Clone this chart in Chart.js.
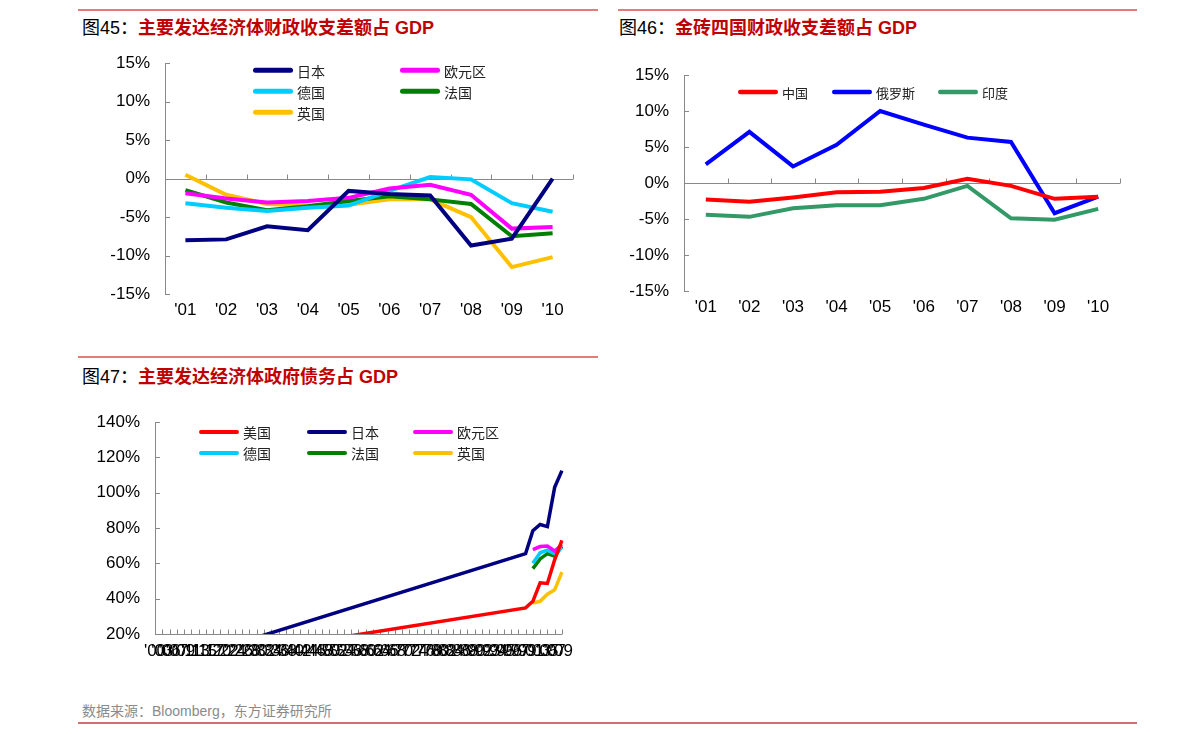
<!DOCTYPE html>
<html lang="zh-CN">
<head>
<meta charset="utf-8">
<title>财政收支差额与政府债务</title>
<script src="https://cdn.jsdelivr.net/npm/chart.js@4.4.1/dist/chart.umd.min.js"></script>
<style>
  html, body { margin: 0; padding: 0; background: #fff; }
  body { width: 1191px; height: 739px; position: relative; overflow: hidden;
         font-family: "Liberation Sans", Arial, "Noto Sans CJK SC", sans-serif; }
  .rule { position: absolute; height: 2px; background: #e47b7b; }
  .title { position: absolute; font-size: 18px; line-height: 20px; white-space: nowrap; color: #000; }
  .title b { color: #c00000; }
  canvas { position: absolute; }
  .source { position: absolute; left: 82px; top: 703px; font-size: 14px; line-height: 16px;
            color: #8a8a8a; white-space: nowrap; }
</style>
</head>
<body>
<div class="rule" style="left:78px;top:9px;width:520px"></div>
<div class="rule" style="left:618px;top:9px;width:519px"></div>
<div class="title" style="left:82px;top:18px">图45：<b>主要发达经济体财政收支差额占 GDP</b></div>
<div class="title" style="left:619px;top:18px">图46：<b>金砖四国财政收支差额占 GDP</b></div>
<canvas id="c45" width="480" height="280" style="left:100px;top:50px"></canvas>
<canvas id="c46" width="510" height="270" style="left:619px;top:60px"></canvas>

<div class="rule" style="left:78px;top:356px;width:520px"></div>
<div class="title" style="left:82px;top:367px">图47：<b>主要发达经济体政府债务占 GDP</b></div>
<canvas id="c47" width="490" height="265" style="left:90px;top:405px"></canvas>

<div class="source">数据来源：Bloomberg，东方证券研究所</div>
<div class="rule" style="left:78px;top:722px;width:1059px;background:#d07070"></div>

<script>
// 图45 / 图46 横轴
const years = ["'01", "'02", "'03", "'04", "'05", "'06", "'07", "'08", "'09", "'10"];

// 图45：主要发达经济体财政收支差额占 GDP (%)
const japanDef   = [-8.0, -7.9, -6.2, -6.7, -1.6, -2.0, -2.2, -8.7, -7.8, 0.0];
const euroDef    = [-1.9, -2.6, -3.1, -2.9, -2.5, -1.3, -0.8, -2.1, -6.5, -6.3];
const germanyDef = [-3.2, -3.8, -4.2, -3.8, -3.5, -1.6, 0.2, -0.1, -3.2, -4.3];
const franceDef  = [-1.5, -3.1, -4.1, -3.6, -2.9, -2.3, -2.7, -3.3, -7.5, -7.1];
const ukDef      = [0.5, -2.1, -3.3, -3.5, -3.4, -2.7, -2.7, -5.0, -11.5, -10.2];

// 图46：金砖四国财政收支差额占 GDP (%)
const chinaDef  = [-2.3, -2.6, -2.0, -1.3, -1.2, -0.7, 0.6, -0.4, -2.2, -1.9];
const russiaDef = [2.6, 7.1, 2.3, 5.3, 10.0, 8.1, 6.3, 5.7, -4.2, -1.9];
const indiaDef  = [-4.4, -4.7, -3.5, -3.1, -3.1, -2.2, -0.4, -4.9, -5.1, -3.6];

// 图47 横轴年份（标签显示为 'yy）
const debtYears = ['1900', '1903', '1906', '1907', '1909', '1911', '1913', '1915', '1917', '1920',
  '1922', '1924', '1926', '1928', '1930', '1932', '1934', '1936', '1938', '1940',
  '1942', '1944', '1946', '1948', '1950', '1952', '1954', '1956', '1958', '1960',
  '1962', '1964', '1966', '1968', '1970', '1972', '1974', '1976', '1978', '1980',
  '1982', '1984', '1986', '1988', '1990', '1992', '1993', '1994', '1995', '1996',
  '1997', '1999', '2001', '2003', '2005', '2007', '2009'];

// 图47：政府债务占 GDP (%)，只有部分年份有值
const usYears = ['1940', '1999', '2001', '2003', '2005', '2007', '2009'];
const usDebt  = [13.8, 34.8, 38.5, 49.0, 48.6, 62.0, 73.0];
const jpYears = ['1920', '1999', '2001', '2003', '2005', '2007', '2009'];
const jpDebt  = [11.7, 65.5, 78.5, 82.0, 80.8, 103.0, 112.5];
const eurYears = ['2001', '2003', '2005', '2007', '2009'];
const euDebt  = [67.8, 69.5, 69.8, 67.0, 70.5];
const deDebt  = [60.0, 66.0, 67.5, 65.5, 69.0];
const frDebt  = [57.0, 62.5, 65.5, 64.0, 69.5];
const ukDebt  = [37.5, 38.5, 42.5, 45.0, 55.0];

// 把稀疏的年份/数值铺到整条横轴上，空缺用 null
function place(keys, values) {
  return debtYears.map(y => {
    const i = keys.indexOf(y);
    return i < 0 ? null : values[i];
  });
}

Chart.defaults.font.family = '"Liberation Sans", Arial, sans-serif';
Chart.defaults.font.size = 17;
Chart.defaults.color = '#000';

// 0 轴 / 底轴 + 向内的刻度线
const axisMarks = {
  id: 'axisMarks',
  beforeDatasetsDraw(chart, args, opts) {
    const { ctx, chartArea: a, scales: { x, y } } = chart;
    const len = 5;
    ctx.save();
    ctx.strokeStyle = '#888';
    ctx.lineWidth = 1;
    ctx.beginPath();
    y.ticks.forEach(t => {
      const py = Math.round(y.getPixelForValue(t.value)) + 0.5;
      ctx.moveTo(a.left, py);
      ctx.lineTo(a.left + len, py);
    });
    const base = Math.round(opts.atZero ? y.getPixelForValue(0) : a.bottom) + 0.5;
    ctx.moveTo(a.left, base);
    ctx.lineTo(a.right, base);
    const n = x.ticks.length;
    for (let i = 0; i < n; i++) {
      let px;
      if (opts.between) {
        px = i < n - 1 ? (x.getPixelForValue(i) + x.getPixelForValue(i + 1)) / 2 : a.right;
      } else {
        px = x.getPixelForValue(i);
      }
      px = Math.round(px) + 0.5;
      ctx.moveTo(px, base);
      ctx.lineTo(px, base - len);
    }
    ctx.stroke();
    ctx.restore();
  }
};

// 图内的网格式图例
const gridLegend = {
  id: 'gridLegend',
  afterDatasetsDraw(chart, args, opts) {
    const { ctx, chartArea: a } = chart;
    const lw = opts.lineWidth, L = 40;
    ctx.save();
    ctx.font = opts.fontSize + 'px "Noto Sans CJK SC", sans-serif';
    ctx.textBaseline = 'middle';
    ctx.lineCap = 'round';
    chart.data.datasets.forEach((ds, i) => {
      const cx = a.left + opts.cols[i % opts.cols.length];
      const cy = a.top + opts.rows[Math.floor(i / opts.cols.length)];
      ctx.strokeStyle = ds.borderColor;
      ctx.lineWidth = lw;
      ctx.beginPath();
      ctx.moveTo(cx + lw / 2, cy);
      ctx.lineTo(cx + L - lw / 2, cy);
      ctx.stroke();
      ctx.fillStyle = '#222';
      ctx.fillText(ds.label, cx + L + 4, cy + 1);
    });
    ctx.restore();
  }
};

function line(label, data, color, width) {
  return { label, data, borderColor: color, backgroundColor: color, borderWidth: width,
           pointRadius: 0, tension: 0, spanGaps: true };
}

function labelOf(v) { return this.getLabelForValue(v); }

function options(cfg) {
  return {
    responsive: false,
    animation: false,
    layout: { padding: cfg.padding },
    plugins: {
      legend: { display: false },
      tooltip: { enabled: false },
      axisMarks: cfg.marks,
      gridLegend: cfg.legend
    },
    scales: {
      x: {
        offset: cfg.offset,
        grid: { display: false, drawTicks: false },
        border: { display: false },
        ticks: { autoSkip: false, maxRotation: 0, minRotation: 0, padding: cfg.xPad,
                 callback: cfg.xLabel || labelOf },
        afterFit(s) { s.height = 30; }
      },
      y: {
        min: cfg.min, max: cfg.max,
        // 刻度线不画，只用 tickLength 把标签推离轴线
        grid: { display: false, drawTicks: true, tickLength: 12 },
        border: { display: true, color: '#888', width: 1 },
        ticks: { stepSize: cfg.step, padding: 3, callback: v => v + '%' },
        afterFit(s) { s.width = 65; }
      }
    }
  };
}

new Chart(document.getElementById('c45'), {
  type: 'line',
  data: {
    labels: years,
    datasets: [
      line('日本', japanDef, '#000080', 4),
      line('欧元区', euroDef, '#ff00ff', 4),
      line('德国', germanyDef, '#00ccff', 4),
      line('法国', franceDef, '#008000', 4),
      line('英国', ukDef, '#ffc000', 4)
    ]
  },
  options: options({
    padding: { left: 0, top: 13, right: 7, bottom: 6 },
    offset: true, xPad: 6, min: -15, max: 15, step: 5,
    marks: { atZero: true, between: true },
    legend: { cols: [88, 235], rows: [7, 28, 49], lineWidth: 5, fontSize: 14 }
  }),
  plugins: [axisMarks, gridLegend]
});

new Chart(document.getElementById('c46'), {
  type: 'line',
  data: {
    labels: years,
    datasets: [
      line('中国', chinaDef, '#ff0000', 4),
      line('俄罗斯', russiaDef, '#0000ff', 4),
      line('印度', indiaDef, '#339966', 4)
    ]
  },
  options: options({
    padding: { left: 0, top: 15, right: 9, bottom: 9 },
    offset: true, xPad: 6, min: -15, max: 15, step: 5,
    marks: { atZero: true, between: true },
    legend: { cols: [54, 148, 254], rows: [17], lineWidth: 4.5, fontSize: 13 }
  }),
  plugins: [axisMarks, gridLegend]
});

new Chart(document.getElementById('c47'), {
  type: 'line',
  data: {
    labels: debtYears,
    datasets: [
      line('美国', place(usYears, usDebt), '#ff0000', 3.5),
      line('日本', place(jpYears, jpDebt), '#000080', 3.5),
      line('欧元区', place(eurYears, euDebt), '#ff00ff', 3.5),
      line('德国', place(eurYears, deDebt), '#00ccff', 3.5),
      line('法国', place(eurYears, frDebt), '#008000', 3.5),
      line('英国', place(eurYears, ukDebt), '#ffc000', 3.5)
    ]
  },
  options: options({
    padding: { left: 0, top: 17, right: 14, bottom: 6 },
    offset: false, xPad: 7, min: 20, max: 140, step: 20,
    xLabel: function (v) { return "'" + this.getLabelForValue(v).slice(2); },
    marks: { atZero: false, between: false },
    legend: { cols: [44, 152, 258], rows: [10, 31], lineWidth: 4, fontSize: 14 }
  }),
  plugins: [axisMarks, gridLegend]
});
</script>
</body>
</html>
